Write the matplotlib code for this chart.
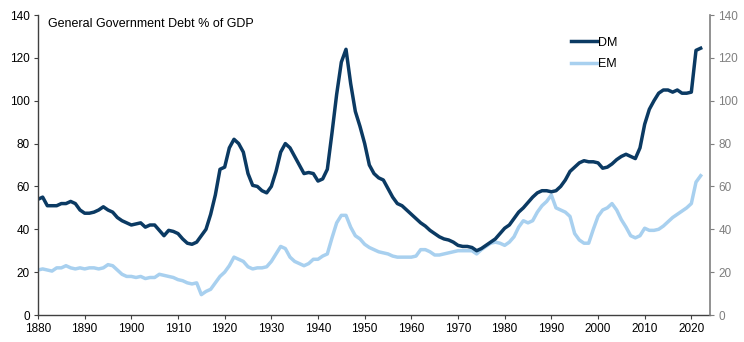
import matplotlib
matplotlib.use("Agg")
import matplotlib.pyplot as plt

years = list(range(1880, 2023))

dm = [54, 55, 51, 51, 51, 52, 52, 53, 52, 49,
      47.5, 47.5, 48, 49, 50.5, 49, 48, 45.5, 44, 43,
      42, 42.5, 43, 41, 42, 42, 39.5, 37, 39.5, 39,
      38, 35.5, 33.5, 33, 34, 37, 40, 47, 56, 68,
      69, 78, 82, 80, 76, 66, 60.5, 60, 58, 57,
      60, 67, 76, 80, 78, 74, 70, 66, 66.5, 66,
      62.5, 63.5, 68, 85, 103, 118, 124, 108, 95, 88,
      80, 70, 66, 64, 63, 59, 55, 52, 51, 49,
      47, 45, 43, 41.5, 39.5, 38, 36.5, 35.5, 35, 34,
      32.5, 32, 32, 31.5, 30, 31, 32.5, 34, 35.5, 38,
      40.5, 42, 45, 48, 50, 52.5, 55, 57, 58, 58,
      57.5, 58, 60, 63, 67, 69, 71, 72, 71.5, 71.5,
      71, 68.5, 69, 70.5, 72.5, 74, 75, 74, 73, 78,
      89, 96, 100, 103.5, 105, 105, 104, 105, 103.5, 103.5,
      104, 123.5, 124.5]

em = [21, 21.5, 21, 20.5, 22, 22, 23, 22, 21.5, 22,
      21.5, 22, 22, 21.5, 22, 23.5, 23, 21, 19, 18,
      18, 17.5, 18, 17, 17.5, 17.5, 19, 18.5, 18, 17.5,
      16.5, 16, 15, 14.5, 15, 9.5, 11, 12, 15, 18,
      20, 23, 27, 26, 25, 22.5, 21.5, 22, 22, 22.5,
      25, 28.5, 32, 31, 27, 25, 24, 23, 24, 26,
      26, 27.5, 28.5, 36, 43, 46.5, 46.5, 41, 37, 35.5,
      33, 31.5, 30.5, 29.5, 29, 28.5, 27.5, 27, 27, 27,
      27, 27.5, 30.5, 30.5, 29.5, 28, 28, 28.5, 29, 29.5,
      30, 30, 30, 30, 28.5, 30.5, 32, 33.5, 34, 33.5,
      32.5, 34, 36.5, 41, 44, 43, 44, 48, 51, 53,
      56, 50, 49, 48, 46, 38, 35, 33.5, 33.5, 40,
      46, 49, 50, 52, 49, 44.5, 41, 37, 36, 37,
      40.5, 39.5, 39.5, 40, 41.5, 43.5, 45.5, 47, 48.5, 50,
      52, 62, 65]

y_ticks = [0, 20, 40, 60, 80, 100, 120, 140]
x_ticks = list(range(1880, 2021, 10))

title = "General Government Debt % of GDP"

plt.rcParams['font.family'] = ['Liberation Sans', 'DejaVu Sans']

fig = plt.figure(figsize=(7.44, 3.42), dpi=100)
ax = fig.add_axes([38/744, 27/342, (710-38)/744, 300/342])

dm_color = "#0b3a63"
em_color = "#a8d0ef"

ax.plot(years, em, color=em_color, lw=2.5, label="EM", solid_joinstyle="round")
ax.plot(years, dm, color=dm_color, lw=2.5, label="DM", solid_joinstyle="round")

ax.set_xlim(1880, 2024)
ax.set_ylim(0, 140)
ax.set_yticks(y_ticks)
ax.set_xticks(x_ticks)
ax.tick_params(axis='y', labelsize=8.5, length=3, width=0.8, color="#404040", pad=3)
ax.tick_params(axis='x', labelsize=8.5, length=3, width=0.8, color="#404040", pad=3)

for s in ["top", "right"]:
    ax.spines[s].set_visible(False)
ax.spines["left"].set_color("#404040")
ax.spines["bottom"].set_color("#404040")
ax.spines["left"].set_linewidth(1.0)
ax.spines["bottom"].set_linewidth(1.0)

ax2 = ax.twinx()
ax2.set_ylim(0, 140)
ax2.set_yticks(y_ticks)
ax2.tick_params(axis='y', labelsize=8.5, length=3, width=0.8, color="#7f7f7f",
                labelcolor="#7f7f7f", pad=3)
for s in ["top", "left", "bottom"]:
    ax2.spines[s].set_visible(False)
ax2.spines["right"].set_color("#7f7f7f")
ax2.spines["right"].set_linewidth(1.2)

ax.text(0.015, 0.99, title, transform=ax.transAxes, fontsize=9, va="top", ha="left")

handles, labels = ax.get_legend_handles_labels()
leg = ax.legend(handles[::-1], labels[::-1], loc="upper left",
                bbox_to_anchor=(0.785, 0.945), frameon=False, fontsize=9,
                handlelength=2.1, handletextpad=0.1, labelspacing=0.75,
                borderaxespad=0)

fig.savefig("out.png", dpi=100)
